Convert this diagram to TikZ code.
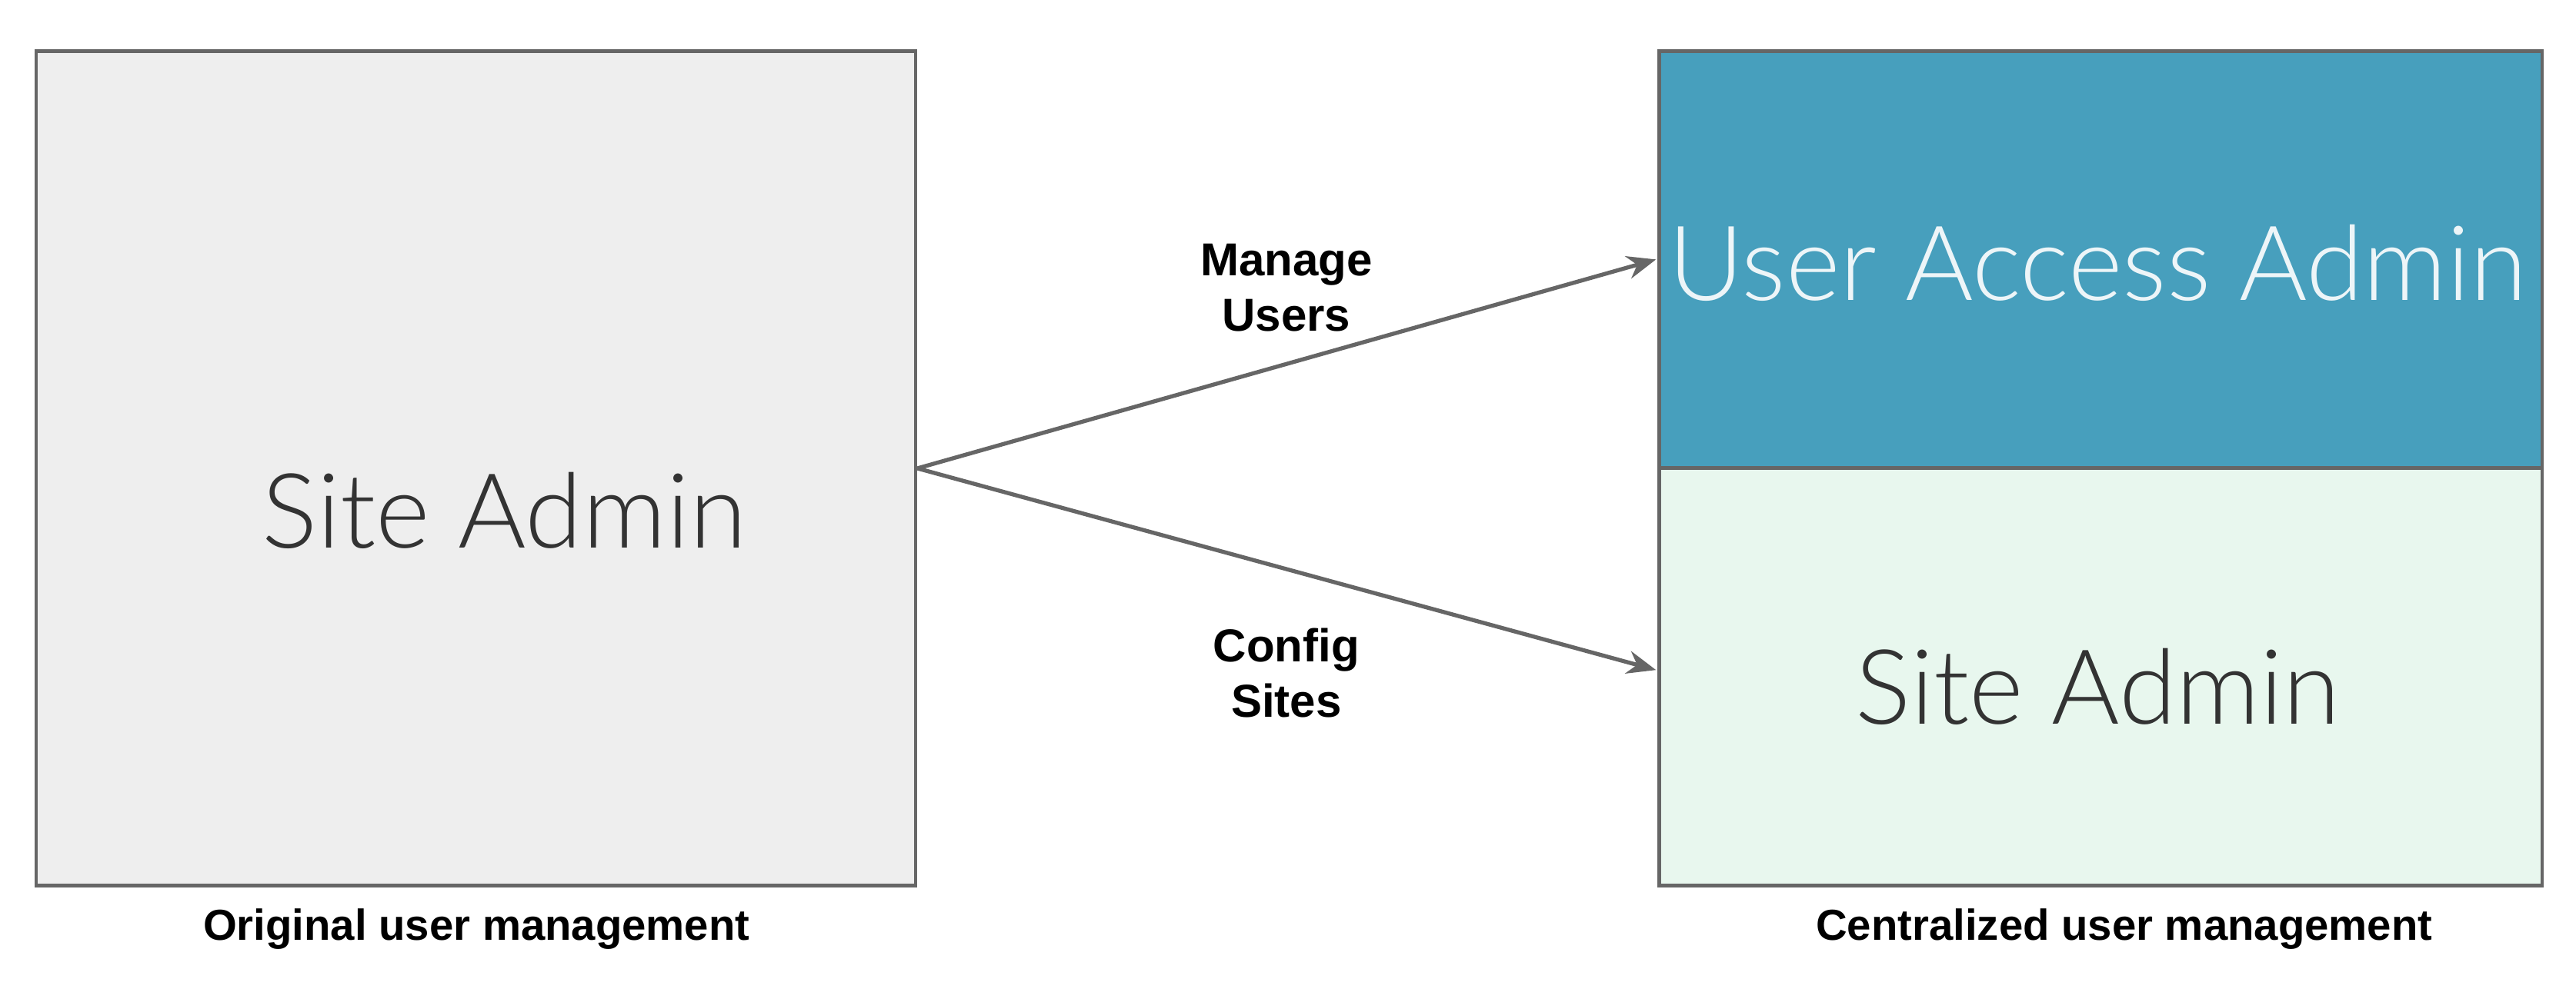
\documentclass[tikz,border=0pt]{standalone}
\usepackage{fontspec}
\setmainfont{Liberation Sans}
\newfontfamily\thinfont{Lato}[UprightFont=* Light]
\usetikzlibrary{positioning, arrows.meta}
\definecolor{boxgray}{HTML}{EEEEEE}
\definecolor{boxblue}{HTML}{479FBD}
\definecolor{boxgreen}{HTML}{E8F7EE}
\definecolor{linegray}{HTML}{666666}
\begin{document}
\begin{tikzpicture}[x=0.01cm, y=-0.01cm,
  box/.style={draw=linegray, line width=0.6pt, inner sep=0pt},
  bigtext/.style={font=\thinfont\fontsize{18}{20}\selectfont},
  label/.style={font=\bfseries\fontsize{8}{9.6}\selectfont, align=center},
  caption/.style={font=\bfseries\fontsize{7.5}{9}\selectfont},
  link/.style={draw=linegray, line width=0.7pt, -{Stealth[length=5pt, width=4pt]}}]
  \useasboundingbox (0,0) rectangle (1568,608);

  % left side
  \node[box, fill=boxgray, minimum width=5.35cm, minimum height=5.08cm, anchor=north west] (orig) at (21,30) {};
  \node[bigtext, text=black!80] at (307,311) {Site Admin};
  \node[caption] (origcap) at (290,566) {Original user management};

  % right side
  \node[box, fill=boxblue, minimum width=5.37cm, minimum height=2.54cm, anchor=north west] (uaa) at (1009,30) {};
  \node[box, fill=boxgreen, minimum width=5.37cm, minimum height=2.54cm, anchor=north west] (site) at (1009,284) {};
  \node[bigtext, text=white!90!boxblue] at (1277,160) {User Access Admin};
  \node[bigtext, text=black!80] at (1277,418) {Site Admin};
  \node[caption] (centcap) at (1293,566) {Centralized user management};

  % connectors
  \coordinate (start) at (orig.east);
  \coordinate (top) at (1008,158);
  \coordinate (bot) at (1008,408);
  \draw[link] (start) -- (top);
  \draw[link] (start) -- (bot);
  \node[label] (manage) at (783,175) {Manage\\Users};
  \node[label] (config) at (783,410) {Config\\Sites};
\end{tikzpicture}
\end{document}
